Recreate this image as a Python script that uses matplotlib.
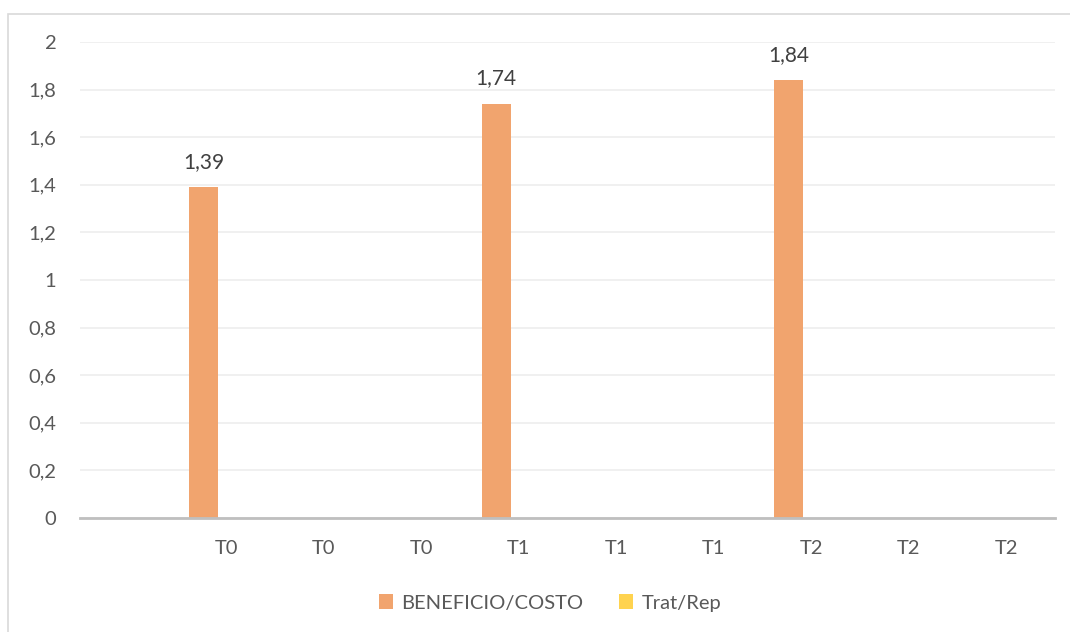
import matplotlib.pyplot as plt
import numpy as np
from matplotlib.patches import Rectangle

categorias = ['', 'T0', 'T0', 'T0', 'T1', 'T1', 'T1', 'T2', 'T2', 'T2']
beneficio_costo = [0, 1.39, 0, 0, 1.74, 0, 0, 1.84, 0, 0]
trat_rep = [0, 0, 0, 0, 0, 0, 0, 0, 0, 0]
etiquetas = ['', '1,39', '', '', '1,74', '', '', '1,84', '', '']

naranja = '#F1A46E'
amarillo = '#FFD34F'
gris_txt = '#595959'

plt.rcParams['font.family'] = ['Lato', 'DejaVu Sans']

fig = plt.figure(figsize=(10.7, 6.32), dpi=100)
ax = fig.add_axes([80 / 1070, 114 / 632, 975 / 1070, 476 / 632])

# borde del gráfico
fig.patches.append(Rectangle((7.5 / 1070, -0.1), 1.2, (632 - 13.5) / 632 + 0.1,
                             transform=fig.transFigure, fill=False,
                             edgecolor='#D9D9D9', linewidth=1.2))

x = np.arange(len(categorias))
w = 0.297
b1 = ax.bar(x - 0.231, beneficio_costo, w, color=naranja, label='BENEFICIO/COSTO', zorder=3)
b2 = ax.bar(x + 0.231, trat_rep, w, color=amarillo, label='Trat/Rep', zorder=3)

for xi, v, t in zip(x, beneficio_costo, etiquetas):
    if t:
        ax.text(xi - 0.231, v + 0.065, t, ha='center', va='bottom', fontsize=15, color='#404040')

ax.set_xlim(-0.5, len(categorias) - 0.5)
ax.set_ylim(0, 2)
ax.set_yticks(np.arange(0, 2.01, 0.2))
ax.set_yticklabels(['0', '0,2', '0,4', '0,6', '0,8', '1', '1,2', '1,4', '1,6', '1,8', '2'])
ax.set_xticks(x)
ax.set_xticklabels(categorias)
ax.tick_params(axis='both', length=0, labelsize=14.5, labelcolor=gris_txt)
ax.tick_params(axis='y', pad=17)
ax.tick_params(axis='x', pad=16)
ax.grid(axis='y', color='#EDEDED', linewidth=1.2, zorder=0)
for s in ['top', 'right', 'left']:
    ax.spines[s].set_visible(False)
ax.spines['bottom'].set_color('#BFBFBF')
ax.spines['bottom'].set_linewidth(2)
ax.spines['bottom'].set_zorder(4)

leg = fig.legend(handles=[b1, b2], loc='center', bbox_to_anchor=(550 / 1070, 1 - 603 / 632),
                 ncol=2, frameon=False, fontsize=14.5, handlelength=0.7, handleheight=0.7,
                 handletextpad=0.4, columnspacing=1.8)
for t in leg.get_texts():
    t.set_color(gris_txt)

fig.savefig('out.png', dpi=100)
